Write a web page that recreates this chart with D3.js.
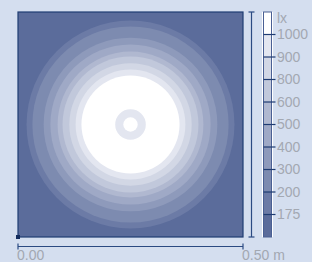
<!DOCTYPE html>
<html>
<head>
<meta charset="utf-8">
<script src="https://cdn.jsdelivr.net/npm/d3@7"></script>
<style>
  body { margin: 0; background: #d4deef; }
  svg { display: block; }
  text { font-family: "Liberation Sans", Arial, sans-serif; }
</style>
</head>
<body>
<div id="chart"></div>
<script>
// illuminance levels (lx) and radius (m) where each contour is reached
var thresholds = [175, 200, 300, 400, 500, 600, 800, 900, 1000];
var contourRadii = [0.231, 0.218, 0.193, 0.178, 0.162, 0.151, 0.136, 0.122, 0.109];
// small dip right under the lamp: ring below 1000 lx
var dipOuter = 0.034;
var dipInner = 0.016;
var centre = [0.25, 0.25];
var xTickLabels = ['0.00', '0.50 m'];
var unitLabel = 'lx';

var width = 312, height = 262;

var svg = d3.select('#chart').append('svg')
  .attr('width', width)
  .attr('height', height);

var x = d3.scaleLinear().domain([0, 0.5]).range([18, 243]);
var y = d3.scaleLinear().domain([0, 0.5]).range([237, 12]);

// band colours, darkest (< 175) to white (> 1000)
var bandColor = d3.scaleLinear()
  .domain([0, 8])
  .range(['#5b6c9b', '#e3e6f0'])
  .interpolate(d3.interpolateRgb);
var colorOf = function(i){ return i >= 9 ? '#ffffff' : bandColor(i); };

// plot background = lowest band
svg.append('rect')
  .attr('x', x(0)).attr('y', y(0.5))
  .attr('width', x(0.5) - x(0)).attr('height', y(0) - y(0.5))
  .attr('fill', colorOf(0));

var rpx = function(r){ return x(r) - x(0); };

svg.selectAll('.band').data(thresholds).enter().append('circle')
  .attr('class', 'band')
  .attr('cx', x(centre[0]))
  .attr('cy', y(centre[1]))
  .attr('r', function(d, i){ return rpx(contourRadii[i]); })
  .attr('fill', function(d, i){ return colorOf(i + 1); });

svg.append('circle')
  .attr('cx', x(centre[0])).attr('cy', y(centre[1]))
  .attr('r', rpx(dipOuter)).attr('fill', colorOf(8));
svg.append('circle')
  .attr('cx', x(centre[0])).attr('cy', y(centre[1]))
  .attr('r', rpx(dipInner)).attr('fill', colorOf(9));

// frame
svg.append('rect')
  .attr('x', x(0)).attr('y', y(0.5))
  .attr('width', x(0.5) - x(0)).attr('height', y(0) - y(0.5))
  .attr('fill', 'none')
  .attr('stroke', '#1f3c72')
  .attr('stroke-width', 1.2);

svg.append('rect')
  .attr('x', x(0) - 2).attr('y', y(0) - 2)
  .attr('width', 4).attr('height', 4)
  .attr('fill', '#142d5e');

// vertical extent bracket
var bx = 251.5;
var bracket = svg.append('g').attr('stroke', '#2b4a82').attr('stroke-width', 1.2);
bracket.append('line').attr('x1', bx).attr('x2', bx).attr('y1', y(0.5)).attr('y2', y(0));
bracket.append('line').attr('x1', bx - 3).attr('x2', bx + 3).attr('y1', y(0.5)).attr('y2', y(0.5));
bracket.append('line').attr('x1', bx - 3).attr('x2', bx + 3).attr('y1', y(0)).attr('y2', y(0));

// horizontal axis
var ay = 246.5;
var axis = svg.append('g').attr('stroke', '#2b4a82').attr('stroke-width', 1.2);
axis.append('line').attr('x1', x(0)).attr('x2', x(0.5)).attr('y1', ay).attr('y2', ay);
axis.append('line').attr('x1', x(0)).attr('x2', x(0)).attr('y1', ay - 3).attr('y2', ay + 3);
axis.append('line').attr('x1', x(0.5)).attr('x2', x(0.5)).attr('y1', ay - 3).attr('y2', ay + 3);

svg.selectAll('.xlab').data(xTickLabels).enter().append('text')
  .attr('class', 'xlab')
  .attr('x', function(d, i){ return x(i * 0.5) - 1; })
  .attr('y', 260)
  .attr('font-size', 14)
  .attr('fill', '#a3a8b2')
  .text(function(d){ return d; });

// colour bar
var cb = d3.scaleLinear().domain([0, 10]).range([237, 12]);
var cbX = 263.5, cbW = 8;
var bands = d3.range(10);

svg.append('rect')
  .attr('x', cbX - 1.5).attr('y', cb(10))
  .attr('width', cbW + 3).attr('height', cb(0) - cb(10))
  .attr('fill', '#ffffff');

svg.selectAll('.cbband').data(bands).enter().append('rect')
  .attr('class', 'cbband')
  .attr('x', cbX).attr('y', function(d){ return cb(d + 1); })
  .attr('width', cbW)
  .attr('height', function(d){ return cb(d) - cb(d + 1); })
  .attr('fill', function(d){ return colorOf(d); });

svg.append('rect')
  .attr('x', cbX).attr('y', cb(10))
  .attr('width', cbW).attr('height', cb(0) - cb(10))
  .attr('fill', 'none')
  .attr('stroke', '#4a6094')
  .attr('stroke-width', 1);

svg.selectAll('.cbtick').data(thresholds).enter().append('line')
  .attr('class', 'cbtick')
  .attr('x1', cbX).attr('x2', cbX + cbW + 4)
  .attr('y1', function(d, i){ return cb(i + 1); })
  .attr('y2', function(d, i){ return cb(i + 1); })
  .attr('stroke', '#1f3c72')
  .attr('stroke-width', 1.2);

svg.selectAll('.cblab').data(thresholds).enter().append('text')
  .attr('class', 'cblab')
  .attr('x', 277)
  .attr('y', function(d, i){ return cb(i + 1); })
  .attr('dy', '0.35em')
  .attr('font-size', 14)
  .attr('fill', '#a3a8b2')
  .text(function(d){ return d; });

svg.append('text')
  .attr('x', 277)
  .attr('y', 18.5)
  .attr('dy', '0.35em')
  .attr('font-size', 14)
  .attr('fill', '#a3a8b2')
  .text(unitLabel);
</script>
</body>
</html>
